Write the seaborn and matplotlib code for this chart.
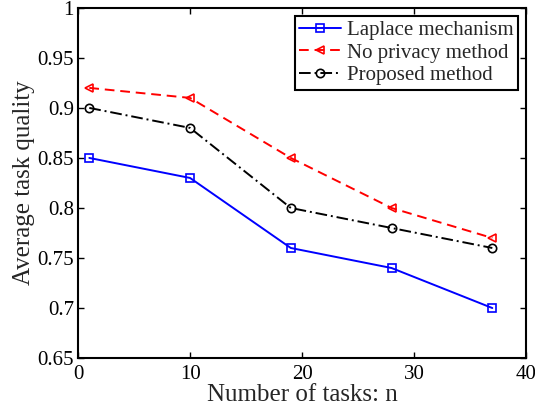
import matplotlib
matplotlib.use("Agg")
import matplotlib.pyplot as plt
import seaborn as sns
import pandas as pd

tasks = [1, 10, 19, 28, 37]
laplace = [0.85, 0.83, 0.76, 0.74, 0.70]
no_privacy = [0.92, 0.91, 0.85, 0.80, 0.77]
proposed = [0.90, 0.88, 0.80, 0.78, 0.76]
series_names = ["Laplace mechanism", "No privacy method", "Proposed method"]

sns.set_style("ticks")
plt.rcParams['font.family'] = ['Liberation Serif', 'DejaVu Serif']

df = pd.DataFrame({
    "n": tasks * 3,
    "q": laplace + no_privacy + proposed,
    "method": sum([[s] * len(tasks) for s in series_names], []),
})

fig = plt.figure(figsize=(5.35, 4.13), dpi=100)
ax = fig.add_axes([0.146, 0.133, 0.837, 0.848])

styles = {
    "Laplace mechanism": dict(color="#0000ff", ls="-", marker="s"),
    "No privacy method": dict(color="#ff0000", ls=(0, (5, 3)), marker="<"),
    "Proposed method": dict(color="black", ls=(0, (6, 2, 1, 2)), marker="o"),
}
for name in series_names:
    st = styles[name]
    sub = df[df.method == name]
    sns.lineplot(data=sub, x="n", y="q", ax=ax, color=st["color"], linestyle=st["ls"],
                 marker=st["marker"], markersize=6, markerfacecolor="none",
                 markeredgecolor=st["color"], markeredgewidth=1.2, linewidth=1.4,
                 label=name)

ax.set_xlim(0, 40)
ax.set_ylim(0.65, 1.0)
ax.set_xticks([0, 10, 20, 30, 40])
ax.set_yticks([0.65, 0.7, 0.75, 0.8, 0.85, 0.9, 0.95, 1.0])
ax.set_yticklabels(["0.65", "0.7", "0.75", "0.8", "0.85", "0.9", "0.95", "1"])
ax.tick_params(direction="in", top=True, right=True, labelsize=15, length=4, width=1,
               colors="black", pad=3)
ax.tick_params(axis="x", pad=5)
for s in ax.spines.values():
    s.set_linewidth(1.5)
    s.set_color("black")
ax.set_xlabel("Number of tasks: n", fontsize=18, labelpad=0)
ax.set_ylabel("Average task quality", fontsize=18, labelpad=2)

leg = ax.legend(loc="upper right", fontsize=15, frameon=True, fancybox=False,
                edgecolor="black", handlelength=2.0, handletextpad=0.3,
                borderpad=0.2, labelspacing=0.15, borderaxespad=0.4)
leg.get_frame().set_linewidth(1.5)
leg.get_frame().set_alpha(1)

fig.savefig("out.png", dpi=100)
